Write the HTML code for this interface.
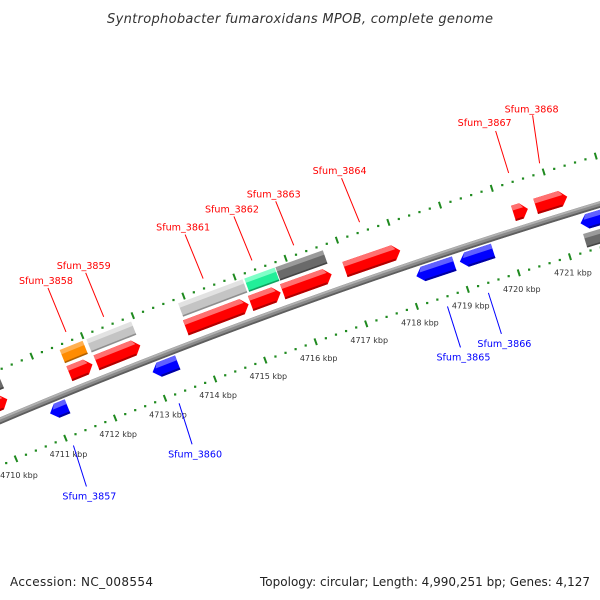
<!DOCTYPE html>
<html><head><meta charset="utf-8"><style>
html,body{margin:0;padding:0;background:#fff;}
svg{display:block;font-family:"DejaVu Sans","Liberation Sans",sans-serif;}
</style></head><body>
<svg id="chart" width="600" height="600" viewBox="0 0 600 600">
<text x="300" y="23" text-anchor="middle" font-size="13" font-style="italic" fill="#333" textLength="386">Syntrophobacter fumaroxidans MPOB, complete genome</text>
<g id="tracks"></g>
<text x="10" y="586" font-size="12" fill="#222" textLength="143">Accession: NC_008554</text>
<text x="590" y="586" font-size="12" fill="#222" text-anchor="end" textLength="330">Topology: circular; Length: 4,990,251 bp; Genes: 4,127</text>
</svg>
<script>
// ---- data ----
const geneStarts = [4709.7,4711.52,4712.06,4713.83,4715.11,4715.74,4716.96,4720.24,4720.67,
                    4709.7,4711.51,4712.04,4713.85,4715.15,4715.76,
                    4710.91,4712.96,4718.17,4719.02,4721.37,
                    4721.35];
const geneEnds   = [4710.28,4711.98,4712.93,4715.07,4715.70,4716.70,4718.04,4720.52,4721.28,
                    4710.31,4711.98,4712.94,4715.13,4715.76,4716.70,
                    4711.26,4713.46,4718.91,4719.67,4722.2,
                    4722.2];
const geneStrand = [1,1,1,1,1,1,1,1,1, 1,1,1,1,1,1, -1,-1,-1,-1,-1, -1];
const geneRow    = [1,1,1,1,1,1,1,1,1, 2,2,2,2,2,2, 1,1,1,1,1, 2];
const geneType   = ['cds','cds','cds','cds','cds','cds','cds','cds','cds',
                    'dgray','orange','lgray','lgray','green','dgray',
                    'cds','cds','cds','cds','cds','dgray'];
const geneLabels = ['','Sfum_3858','Sfum_3859','Sfum_3861','Sfum_3862','Sfum_3863','Sfum_3864','Sfum_3867','Sfum_3868',
                    '','','','','','',
                    'Sfum_3857','Sfum_3860','Sfum_3865','Sfum_3866','',''];
const tickStart = 4709;
const tickEnd = 4722.4;
const tickLabelSuffix = ' kbp';
// ---- layout (not data) ----
const labelLineOffsets = {'Sfum_3867':[-13,-42,-24,-51],'Sfum_3868':[-7,-48,-8,-55]};
const R=6000, A0=20.3*Math.PI/180, P0=[251,321.5], L=54, K0=4715;
const UP=-47.5, LOW=41.2;
const colors = {
  cds1:['#ff0000','#ff7070','#b00000'], cdsm:['#0000ff','#6060ff','#0000a0'],
  dgray:['#6a6a6a','#9a9a9a','#444'], lgray:['#c4c4c4','#e2e2e2','#8e8e8e'],
  orange:['#ff8c00','#ffb050','#b06000'], green:['#22ee99','#80ffc8','#10a060']
};
function alpha(k){return A0-(k-K0)*L/R;}
const C=[P0[0]+R*Math.sin(A0),P0[1]+R*Math.cos(A0)];
function pt(k,v){const a=alpha(k);return [C[0]-(R-v)*Math.sin(a),C[1]-(R-v)*Math.cos(a)];}
const NS='http://www.w3.org/2000/svg';
const G=document.getElementById('tracks');
function mk(tag,attrs,parent){const e=document.createElementNS(NS,tag);for(const k in attrs)e.setAttribute(k,attrs[k]);(parent||G).appendChild(e);return e;}
function ps(arr){return arr.map(p=>p[0].toFixed(2)+','+p[1].toFixed(2)).join(' ');}
function arcPath(k1,k2,v){let d='';for(let i=0;i<=40;i++){const p=pt(k1+(k2-k1)*i/40,v);d+=(i?'L':'M')+p[0].toFixed(2)+','+p[1].toFixed(2);}return d;}

// backbone
const bb=mk('path',{d:arcPath(4709,4722.5,0),stroke:'#8a8a8a','stroke-width':6.5,fill:'none'});


const bbt=mk('path',{d:arcPath(4709,4722.5,-2),stroke:'#b0b0b0','stroke-width':2,fill:'none'});


const bbb=mk('path',{d:arcPath(4709,4722.5,2.4),stroke:'#5e5e5e','stroke-width':1.8,fill:'none'});



// ticks
const nT=Math.round((tickEnd-tickStart)/0.2);
[UP,LOW].forEach((tv,ti)=>{
  for(let i=0;i<=nT;i++){
    const k=tickStart+i*0.2;
    const major=(i%5===0);
    if(major){
      const a=pt(k,tv-3.5),b=pt(k,tv+3.5);
      const t=mk('line',{x1:a[0],y1:a[1],x2:b[0],y2:b[1],stroke:'#1f8a1f','stroke-width':2});
      
      
      if(ti===1){
        const p=pt(k,tv);
        const lbl=mk('text',{x:p[0]+3,y:p[1]+19,'text-anchor':'middle','font-size':8,fill:'#333'});
        lbl.textContent=Math.round(k)+tickLabelSuffix;
        
        
      }
    } else {
      const p=pt(k,tv);
      const d=mk('rect',{x:p[0]-1,y:p[1]-1,width:2.2,height:2.2,fill:'#1f8a1f'});
      
      
    }
  }
});

// genes
for(let i=0;i<geneStarts.length;i++){
  const s=geneStarts[i],e=geneEnds[i],st=geneStrand[i],row=geneRow[i];
  let v1,v2;
  if(st>0){ if(row===1){v1=-25;v2=-9;} else {v1=-43;v2=-28;} }
  else { if(row===1){v1=5;v2=20;} else {v1=23;v2=38;} }
  const key=geneType[i]==='cds'?(st>0?'cds1':'cdsm'):geneType[i];
  const col=colors[key];
  const arrow=geneType[i]==='cds';
  const head=Math.min(7/L,(e-s)*0.45);
  const g=mk('g',{});
  
  
  let body,top,bot;
  const vm=(v1+v2)/2;
  if(arrow&&st>0){
    const eb=e-head;
    body=[pt(s,v1),pt(eb,v1),pt(e,vm),pt(eb,v2),pt(s,v2)];
    top=[pt(s,v1),pt(eb,v1),pt(e-head*0.6,v1+5),pt(s,v1+5)];
    bot=[pt(s,v2-2),pt(eb,v2-2),pt(eb,v2),pt(s,v2)];
  } else if(arrow){
    const sb=s+head;
    body=[pt(sb,v1),pt(e,v1),pt(e,v2),pt(sb,v2),pt(s,vm)];
    top=[pt(sb,v1),pt(e,v1),pt(e,v1+5),pt(s+head*0.6,v1+5)];
    bot=[pt(sb,v2-2),pt(e,v2-2),pt(e,v2),pt(sb,v2)];
  } else {
    body=[pt(s,v1),pt(e,v1),pt(e,v2),pt(s,v2)];
    top=[pt(s,v1),pt(e,v1),pt(e,v1+5),pt(s,v1+5)];
    bot=[pt(s,v2-2),pt(e,v2-2),pt(e,v2),pt(s,v2)];
  }
  mk('polygon',{points:ps(body),fill:col[0]},g);
  mk('polygon',{points:ps(top),fill:col[1]},g);
  mk('polygon',{points:ps(bot),fill:col[2]},g);
  if(!arrow){mk('polygon',{points:ps(body),fill:'none',stroke:'#fff','stroke-width':0.8},g);}

  if(geneLabels[i]){
    const km=(s+e)/2;
    const fw=st>0;
    const p=pt(km,fw?-57:51);
    const off=labelLineOffsets[geneLabels[i]]||(fw?[-18,-44,-20,-52]:[13,41,16,50]);
    const ln=mk('line',{x1:p[0],y1:p[1],x2:p[0]+off[0],y2:p[1]+off[1],stroke:fw?'#ff0000':'#0000ff','stroke-width':1});
    
    
    const tx=mk('text',{x:p[0]+off[2],y:p[1]+off[3]+4,'text-anchor':'middle','font-size':10,fill:fw?'#ff0000':'#0000ff',textLength:54,lengthAdjust:'spacingAndGlyphs'});
    tx.textContent=geneLabels[i];
    
    
  }
}
</script>
</body></html>
